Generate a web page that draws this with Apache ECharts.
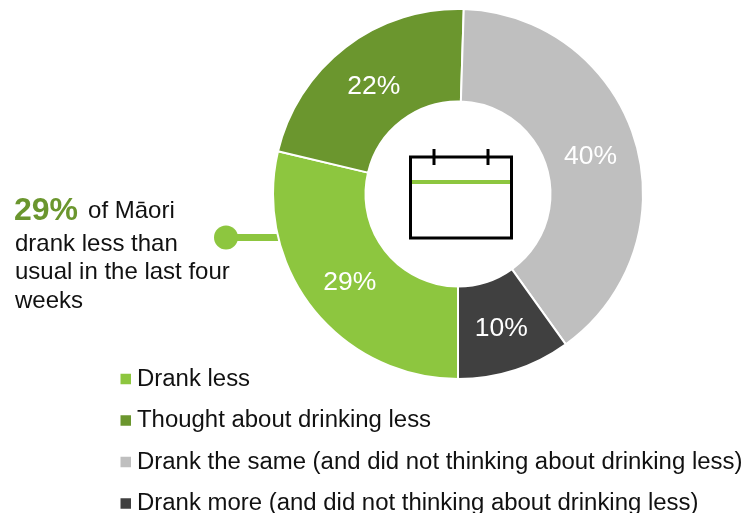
<!DOCTYPE html>
<html>
<head>
<meta charset="utf-8">
<style>html,body{margin:0;padding:0;background:#fff}#chart{width:746px;height:513px}</style>
<script src="https://cdn.jsdelivr.net/npm/echarts@6/dist/echarts.min.js"></script>
</head>
<body>
<div id="chart"></div>
<script>
// Drinking behaviour in the last four weeks, share of respondents (%)
const categories = [
  'Drank less',
  'Thought about drinking less',
  'Drank the same (and did not thinking about drinking less)',
  'Drank more (and did not thinking about drinking less)'
];
const values = [29, 22, 40, 10];
const colors = ['#8DC63F', '#6B962E', '#BFBFBF', '#404040'];
const labelOffsets = [[3, 1], [2, 5], [-3, 4], [0, 0]];
const calloutRest = ['drank less than', 'usual in the last four', 'weeks'];

const FONT = '"Liberation Sans", Arial, sans-serif';
const TEXT = '#111111';

const chart = echarts.init(document.getElementById('chart'), null, { renderer: 'canvas' });

chart.setOption({
  animation: false,
  backgroundColor: '#ffffff',
  legend: {
    orient: 'vertical',
    left: 120.5,
    top: 367,
    height: 200,
    padding: 0,
    itemWidth: 10.5,
    itemHeight: 10.5,
    itemGap: 17.5,
    icon: 'rect',
    selectedMode: false,
    data: categories,
    itemStyle: { borderWidth: 0 },
    textStyle: { fontFamily: FONT, fontSize: 23.95, color: TEXT, padding: [0, 0, 0, 1] }
  },
  series: [{
    type: 'pie',
    center: [458, 194],
    radius: [92.5, 185],
    startAngle: -90,
    clockwise: true,
    silent: true,
    z: 3,
    itemStyle: { borderColor: '#ffffff', borderWidth: 2 },
    label: {
      position: 'inside',
      formatter: '{c}%',
      color: '#ffffff',
      fontFamily: FONT,
      fontSize: 26.5
    },
    labelLine: { show: false },
    data: categories.map((name, i) => ({
      name,
      value: values[i],
      itemStyle: { color: colors[i] },
      label: { offset: labelOffsets[i] }
    }))
  }],
  graphic: [
    // Callout connector running into the "Drank less" slice
    { type: 'line', z: 1, shape: { x1: 226, y1: 237.5, x2: 285, y2: 237.5 },
      style: { stroke: colors[0], lineWidth: 7 } },
    { type: 'circle', z: 1, shape: { cx: 226, cy: 237.5, r: 12 },
      style: { fill: colors[0] } },

    // Callout text
    { type: 'text', z: 5, x: 14, y: 211,
      style: { text: '{big|' + values[0] + '%}{gap| }{rest|of Māori}', verticalAlign: 'middle',
        rich: {
          big: { fontFamily: FONT, fontSize: 32, fontWeight: 'bold', fill: colors[1] },
          gap: { fontFamily: FONT, fontSize: 24, width: 10 },
          rest: { fontFamily: FONT, fontSize: 24, fill: TEXT }
        } } },
    ...calloutRest.map((line, i) => ({
      type: 'text', z: 5, x: 15, y: 244 + i * 28.7,
      style: { text: line, font: '24px ' + FONT, fill: TEXT, verticalAlign: 'middle' }
    })),

    // Calendar icon in the centre of the ring
    { type: 'rect', z: 5, shape: { x: 410.5, y: 157, width: 101, height: 81 },
      style: { fill: 'transparent', stroke: '#000000', lineWidth: 3 } },
    { type: 'line', z: 5, shape: { x1: 434, y1: 149, x2: 434, y2: 165 },
      style: { stroke: '#000000', lineWidth: 3 } },
    { type: 'line', z: 5, shape: { x1: 488, y1: 149, x2: 488, y2: 165 },
      style: { stroke: '#000000', lineWidth: 3 } },
    { type: 'line', z: 5, shape: { x1: 412, y1: 182, x2: 510, y2: 182 },
      style: { stroke: colors[0], lineWidth: 4 } }
  ]
});
</script>
</body>
</html>
